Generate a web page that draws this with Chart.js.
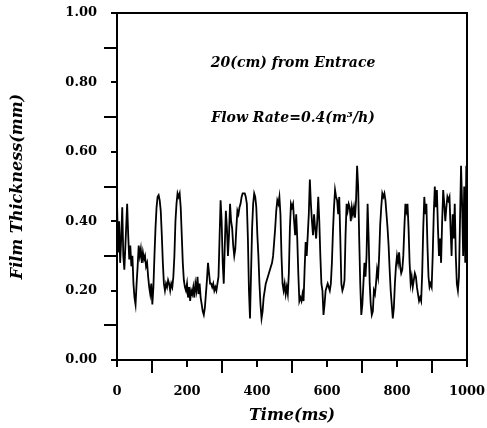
<!DOCTYPE html>
<html>
<head>
<meta charset="utf-8">
<script src="https://cdn.jsdelivr.net/npm/chart.js@4/dist/chart.umd.min.js"></script>
<style>
  html, body { margin: 0; padding: 0; background: #fff; }
</style>
</head>
<body>
<canvas id="chart" width="487" height="428"></canvas>
<script>
// time (ms) and film thickness (mm)
const times = [
  0, 3, 6, 9, 12, 15, 18, 21, 24, 29, 32, 35, 38, 41, 44, 47, 50, 53, 56, 59,
  62, 65, 68, 71, 74, 77, 80, 83, 86, 89, 92, 95, 98, 101, 104, 107, 110, 113, 116, 119,
  122, 125, 128, 131, 134, 137, 140, 143, 146, 149, 152, 155, 158, 161, 164, 167, 170, 173, 176, 179,
  182, 185, 188, 191, 194, 197, 200, 203, 206, 209, 212, 215, 218, 221, 224, 227, 230, 233, 236, 239,
  242, 245, 248, 251, 254, 257, 260, 263, 266, 269, 272, 275, 278, 281, 284, 287, 290, 293, 296, 299,
  302, 305, 308, 311, 314, 317, 320, 323, 326, 329, 332, 335, 338, 341, 344, 347, 350, 353, 356, 359,
  362, 365, 368, 371, 374, 377, 380, 383, 386, 389, 392, 395, 398, 401, 404, 407, 410, 413, 416, 419,
  422, 425, 428, 431, 434, 437, 440, 443, 446, 449, 452, 455, 458, 461, 464, 467, 470, 473, 476, 479,
  482, 485, 488, 491, 494, 497, 500, 503, 506, 509, 512, 515, 518, 521, 524, 527, 530, 533, 536, 539,
  542, 545, 548, 551, 554, 557, 560, 563, 566, 569, 572, 575, 578, 581, 584, 587, 590, 593, 596, 599,
  602, 605, 608, 611, 614, 617, 620, 623, 626, 629, 632, 635, 638, 641, 644, 647, 650, 653, 656, 659,
  662, 665, 668, 671, 674, 677, 680, 683, 686, 689, 692, 695, 698, 701, 704, 707, 710, 713, 716, 719,
  722, 725, 728, 731, 734, 737, 740, 743, 746, 749, 752, 755, 758, 761, 764, 767, 770, 773, 776, 779,
  782, 785, 788, 791, 794, 797, 800, 803, 806, 809, 812, 815, 818, 821, 824, 827, 830, 833, 836, 839,
  842, 845, 848, 851, 854, 857, 860, 863, 866, 869, 872, 875, 878, 881, 884, 887, 890, 893, 896, 899,
  902, 905, 908, 911, 914, 917, 920, 923, 926, 929, 932, 935, 938, 941, 944, 947, 950, 953, 956, 959,
  962, 965, 968, 971, 974, 977, 980, 983, 986, 989, 992, 995, 998, 1000
];
const thickness = [
  0.46, 0.31, 0.40, 0.28, 0.35, 0.44, 0.30, 0.26, 0.33, 0.45, 0.36, 0.29, 0.33, 0.27, 0.30, 0.22, 0.18, 0.16, 0.22, 0.27,
  0.33, 0.30, 0.32, 0.28, 0.31, 0.29, 0.30, 0.27, 0.28, 0.24, 0.21, 0.19, 0.22, 0.16, 0.21, 0.30, 0.38, 0.44, 0.47, 0.475,
  0.46, 0.43, 0.36, 0.28, 0.22, 0.20, 0.22, 0.21, 0.23, 0.22, 0.20, 0.22, 0.21, 0.24, 0.30, 0.40, 0.45, 0.48, 0.47, 0.48,
  0.44, 0.36, 0.28, 0.23, 0.21, 0.20, 0.22, 0.18, 0.21, 0.17, 0.20, 0.19, 0.21, 0.18, 0.22, 0.20, 0.24, 0.19, 0.22, 0.18,
  0.16, 0.14, 0.13, 0.15, 0.19, 0.23, 0.28, 0.25, 0.22, 0.22, 0.21, 0.22, 0.20, 0.21, 0.20, 0.22, 0.24, 0.35, 0.46, 0.40,
  0.28, 0.22, 0.33, 0.43, 0.38, 0.30, 0.36, 0.45, 0.40, 0.38, 0.33, 0.30, 0.32, 0.38, 0.43, 0.42, 0.44, 0.45, 0.47, 0.48,
  0.48, 0.48, 0.47, 0.45, 0.35, 0.20, 0.12, 0.25, 0.38, 0.45, 0.48, 0.47, 0.44, 0.36, 0.30, 0.22, 0.16, 0.12, 0.14, 0.18,
  0.20, 0.22, 0.23, 0.24, 0.25, 0.26, 0.27, 0.28, 0.30, 0.34, 0.38, 0.43, 0.46, 0.45, 0.47, 0.42, 0.30, 0.22, 0.20, 0.22,
  0.19, 0.21, 0.19, 0.25, 0.38, 0.45, 0.44, 0.45, 0.40, 0.36, 0.42, 0.35, 0.25, 0.17, 0.18, 0.17, 0.19, 0.17, 0.26, 0.34,
  0.30, 0.36, 0.42, 0.52, 0.45, 0.40, 0.36, 0.42, 0.38, 0.35, 0.40, 0.47, 0.40, 0.30, 0.22, 0.20, 0.13, 0.16, 0.20, 0.21,
  0.22, 0.21, 0.20, 0.22, 0.28, 0.37, 0.44, 0.49, 0.47, 0.46, 0.42, 0.47, 0.35, 0.22, 0.20, 0.21, 0.23, 0.36, 0.45, 0.43,
  0.45, 0.44, 0.40, 0.44, 0.42, 0.44, 0.41, 0.46, 0.56, 0.50, 0.35, 0.22, 0.13, 0.16, 0.22, 0.28, 0.24, 0.30, 0.45, 0.35,
  0.22, 0.16, 0.13, 0.14, 0.20, 0.19, 0.22, 0.26, 0.24, 0.30, 0.39, 0.44, 0.48, 0.47, 0.48, 0.46, 0.42, 0.38, 0.33, 0.26,
  0.20, 0.16, 0.12, 0.15, 0.22, 0.27, 0.30, 0.28, 0.31, 0.27, 0.25, 0.26, 0.30, 0.38, 0.45, 0.43, 0.45, 0.38, 0.28, 0.22,
  0.24, 0.21, 0.23, 0.25, 0.24, 0.21, 0.19, 0.17, 0.18, 0.17, 0.25, 0.38, 0.47, 0.42, 0.45, 0.33, 0.24, 0.21, 0.22, 0.21,
  0.30, 0.42, 0.50, 0.44, 0.49, 0.38, 0.30, 0.35, 0.28, 0.40, 0.49, 0.45, 0.40, 0.44, 0.47, 0.46, 0.47, 0.38, 0.30, 0.42,
  0.35, 0.45, 0.30, 0.22, 0.20, 0.24, 0.40, 0.56, 0.45, 0.30, 0.50, 0.28, 0.56, 0.40
];
const xLabelEvery = 200;   // ms
const yLabelEvery = 2;     // in tenths of a mm
const noteLines = ["20(cm) from Entrace", "Flow Rate=0.4(m\u00b3/h)"];
const notePos = [[503, 0.856], [503, 0.697]];

const serif = "'DejaVu Serif', 'Liberation Serif', serif";

function isLabelledX(v) { return Math.round(v) % xLabelEvery === 0; }
function isLabelledY(v) { return Math.round(v * 10) % yLabelEvery === 0; }

// frame round the plot, short ticks under the labelled values, and the two notes
const frameAndNotes = {
  id: "frameAndNotes",
  afterDraw(chart) {
    const { ctx, chartArea: a, scales } = chart;
    ctx.save();
    ctx.strokeStyle = "#000";
    ctx.lineWidth = 2;
    ctx.strokeRect(a.left, a.top, a.right - a.left, a.bottom - a.top);
    ctx.beginPath();
    scales.x.ticks.forEach((t) => {
      if (!isLabelledX(t.value)) return;
      const px = Math.round(scales.x.getPixelForValue(t.value));
      ctx.moveTo(px, a.bottom);
      ctx.lineTo(px, a.bottom + 7);
    });
    scales.y.ticks.forEach((t) => {
      if (!isLabelledY(t.value)) return;
      const py = Math.round(scales.y.getPixelForValue(t.value));
      ctx.moveTo(a.left, py);
      ctx.lineTo(a.left - 6, py);
    });
    ctx.stroke();
    ctx.fillStyle = "#000";
    ctx.font = "italic bold 14px " + serif;
    ctx.textAlign = "center";
    ctx.textBaseline = "middle";
    noteLines.forEach((txt, i) => {
      ctx.fillText(txt, scales.x.getPixelForValue(notePos[i][0]), scales.y.getPixelForValue(notePos[i][1]));
    });
    ctx.restore();
  },
};

new Chart(document.getElementById("chart"), {
  type: "line",
  data: {
    datasets: [
      {
        data: times.map((t, i) => ({ x: t, y: thickness[i] })),
        borderColor: "#000",
        borderWidth: 1.8,
        pointRadius: 0,
        tension: 0,
        fill: false,
      },
    ],
  },
  options: {
    responsive: false,
    animation: false,
    devicePixelRatio: 1,
    layout: { padding: { top: 13, right: 20, left: 0, bottom: 0 } },
    plugins: { legend: { display: false }, tooltip: { enabled: false } },
    scales: {
      x: {
        type: "linear",
        min: 0,
        max: 1000,
        afterFit: (s) => { s.height = 68; s.paddingLeft = 0; s.paddingRight = 0; },
        border: { display: true, color: "#000", width: 2 },
        grid: {
          drawOnChartArea: false,
          drawTicks: true,
          tickLength: 13,
          lineWidth: 2,
          tickColor: (c) => (isLabelledX(c.tick.value) ? "rgba(0,0,0,0)" : "#000"),
        },
        ticks: {
          stepSize: 100,
          color: "#000",
          maxRotation: 0,
          autoSkip: false,
          padding: 11,
          font: { family: serif, size: 13, weight: "bold" },
          callback: (v) => (isLabelledX(v) ? String(v) : ""),
        },
        title: {
          display: true,
          text: "Time(ms)",
          color: "#000",
          padding: { top: 0, bottom: 3 },
          font: { family: serif, size: 16, weight: "bold", style: "italic" },
        },
      },
      y: {
        min: 0,
        max: 1,
        afterFit: (s) => { s.width = 117; s.paddingTop = 0; s.paddingBottom = 0; },
        border: { display: true, color: "#000", width: 2 },
        grid: {
          drawOnChartArea: false,
          drawTicks: true,
          tickLength: 13,
          lineWidth: 2,
          tickColor: (c) => (isLabelledY(c.tick.value) ? "rgba(0,0,0,0)" : "#000"),
        },
        ticks: {
          stepSize: 0.1,
          color: "#000",
          autoSkip: false,
          padding: 7,
          font: { family: serif, size: 13, weight: "bold" },
          callback: (v) => (isLabelledY(v) ? v.toFixed(2) : ""),
        },
        title: {
          display: true,
          text: "Film Thickness(mm)",
          color: "#000",
          padding: { top: 8, bottom: 0 },
          font: { family: serif, size: 16, weight: "bold", style: "italic" },
        },
      },
    },
  },
  plugins: [frameAndNotes],
});
</script>
</body>
</html>
